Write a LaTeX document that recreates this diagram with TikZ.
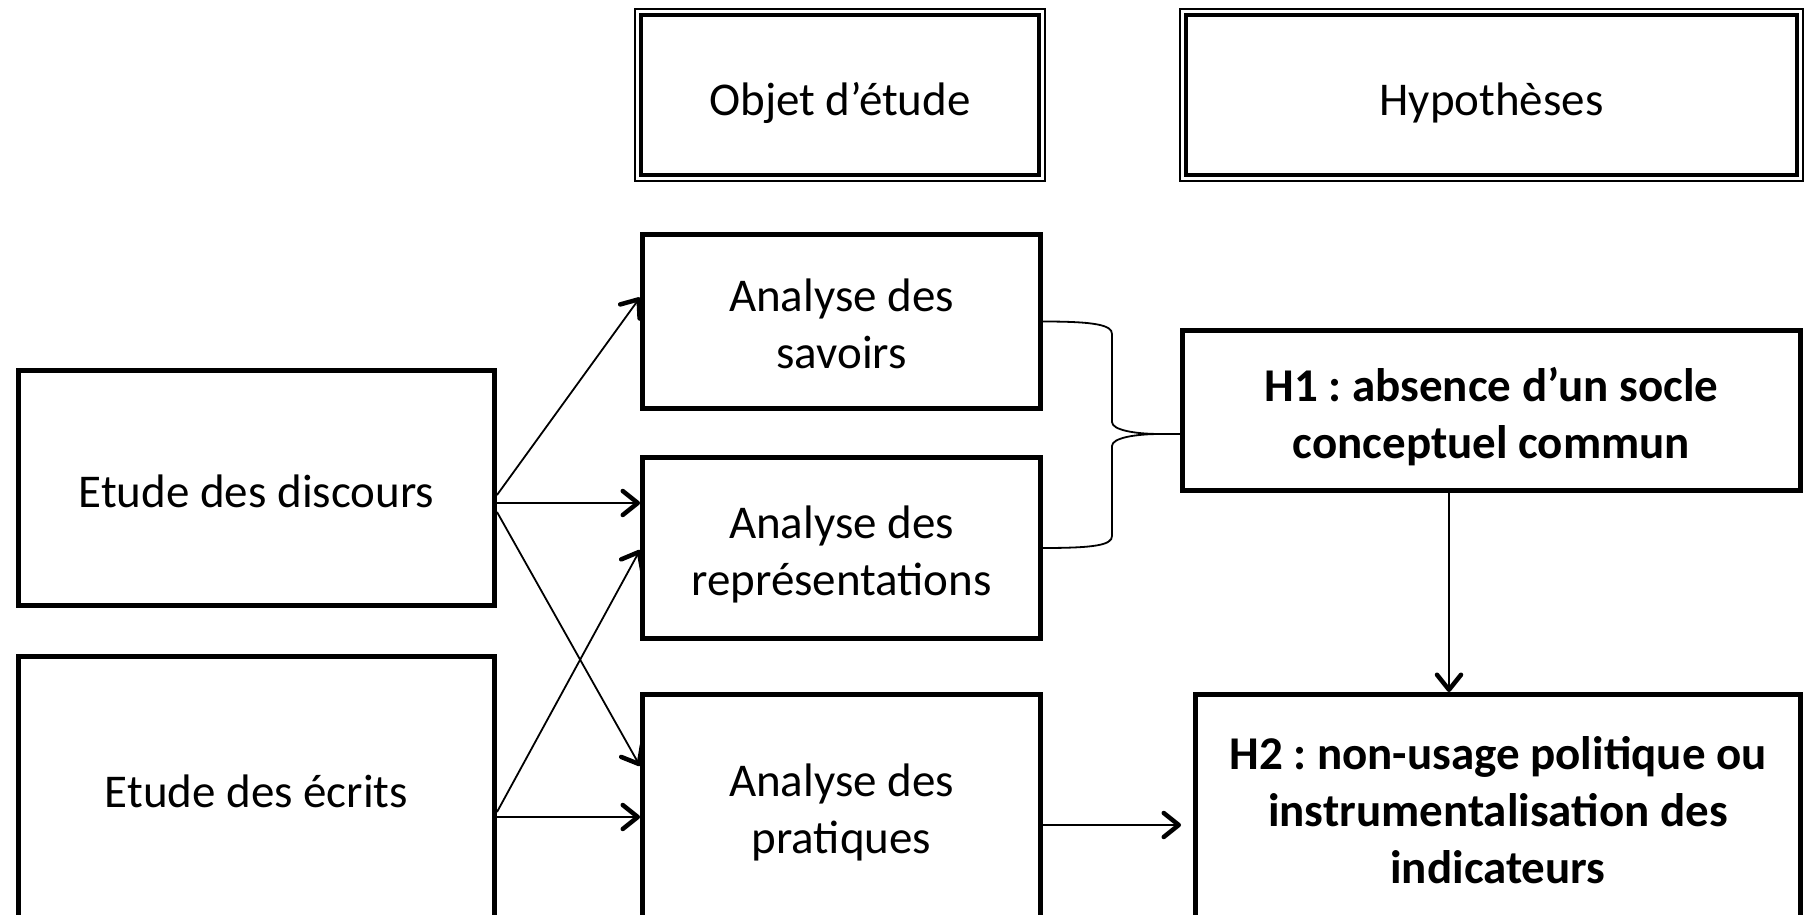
\documentclass[tikz,border=0pt]{standalone}
\usepackage{fontspec}
\setmainfont{Carlito}
\usetikzlibrary{arrows.meta,calc}
\frenchspacing
\begin{document}
\begin{tikzpicture}[x=1pt,y=-1pt,
  txt/.style={inner sep=0pt, align=center, font=\fontsize{47}{57}\selectfont\frenchspacing},
  htxt/.style={txt, font=\fontsize{47}{57}\selectfont\bfseries\frenchspacing},
  frame/.style={draw, line width=5pt, inner sep=0pt},
  conn/.style={line width=1.8pt, -{Straight Barb[length=15pt,width=24pt,line width=4.5pt,round]}},
  brace/.style={line width=1.8pt}
]
\useasboundingbox (0,0) rectangle (1805,915);
\clip (0,0) rectangle (1805,915);

% header boxes (double border)
\node[inner sep=0pt, minimum width=410pt, minimum height=172pt] (obj) at (840,95) {};
\node[inner sep=0pt, minimum width=623pt, minimum height=172pt] (hyp) at (1491.5,95) {};
\foreach \n in {obj,hyp}{
  \draw[line width=2.5pt] (\n.north west) rectangle (\n.south east);
  \draw[line width=3.5pt] ([shift={(6pt,-6pt)}]\n.north west) rectangle ([shift={(-6pt,6pt)}]\n.south east);
}
\node[txt] (objt) at ([yshift=-8pt]obj.center) {Objet d’étude};
\node[txt] (hypt) at ([yshift=-8pt]hyp.center) {Hypothèses};

% analysis boxes
\node[frame, minimum width=398pt, minimum height=174pt] (sav) at (841.5,321.5) {};
\node[frame, minimum width=398pt, minimum height=181pt] (rep) at (841.5,548) {};
\node[frame, minimum width=398pt, minimum height=229pt] (pra) at (841.5,809) {};
\node[txt] (savt) at ([yshift=-2pt]sav.center) {Analyse des\\savoirs};
\node[txt] (rept) at ([yshift=-6pt]rep.center) {Analyse des\\représentations};
\node[txt] (prat) at ([yshift=-3pt]pra.center) {Analyse des\\pratiques};

% study boxes
\node[frame, minimum width=476pt, minimum height=235pt] (dis) at (256.5,488) {};
\node[frame, minimum width=476pt, minimum height=269pt] (ecr) at (256.5,791) {};
\node[txt] (dist) at ([yshift=-3pt]dis.center) {Etude des discours};
\node[txt] (ecrt) at (ecr.center) {Etude des écrits};

% hypotheses
\node[frame, minimum width=618pt, minimum height=160pt] (h1) at (1491.5,410.5) {};
\node[frame, minimum width=605pt, minimum height=229pt] (h2) at (1498,809) {};
\node[htxt] (h1t) at ([yshift=-6pt]h1.center) {H1 : absence d’un socle\\conceptuel commun};
\node[htxt] (h2t) at ([yshift=-1pt]h2.center) {H2 : non-usage politique ou\\instrumentalisation des\\indicateurs};

% connectors from studies
\draw[conn] ([yshift=-7pt]dis.east) -- ([yshift=24pt]sav.west);
\draw[conn] ([yshift=-15pt]dis.east) -- ([yshift=45pt]rep.west);
\draw[conn] ([yshift=-24pt]dis.east) -- ([yshift=43pt]pra.west);
\draw[conn] ([yshift=-21pt]ecr.east) -- ([yshift=-2pt]rep.west);
\draw[conn] ([yshift=-26pt]ecr.east) -- ([yshift=-8pt]pra.west);

% pratiques -> H2
\coordinate (p2) at (1181,825);
\draw[conn] ([xshift=-5pt,yshift=-16pt]pra.east) -- (p2);

% H1 -> H2
\coordinate (vx) at (1449,0);
\draw[conn] (h1.south -| vx) -- (h2.north -| vx);

% brace
\coordinate (tip) at (1160,434);
\draw[brace] (sav.east) .. controls (1095,321.5) and (1112,325) .. (1112,334) -- (1112,422)
  .. controls (1112,430) and (1135,434) .. (tip);
\draw[brace] (rep.east) .. controls (1095,548) and (1112,545) .. (1112,536) -- (1112,446)
  .. controls (1112,438) and (1135,434) .. (tip);
\draw[brace] (tip) -- (h1.west |- tip);
\end{tikzpicture}
\end{document}
